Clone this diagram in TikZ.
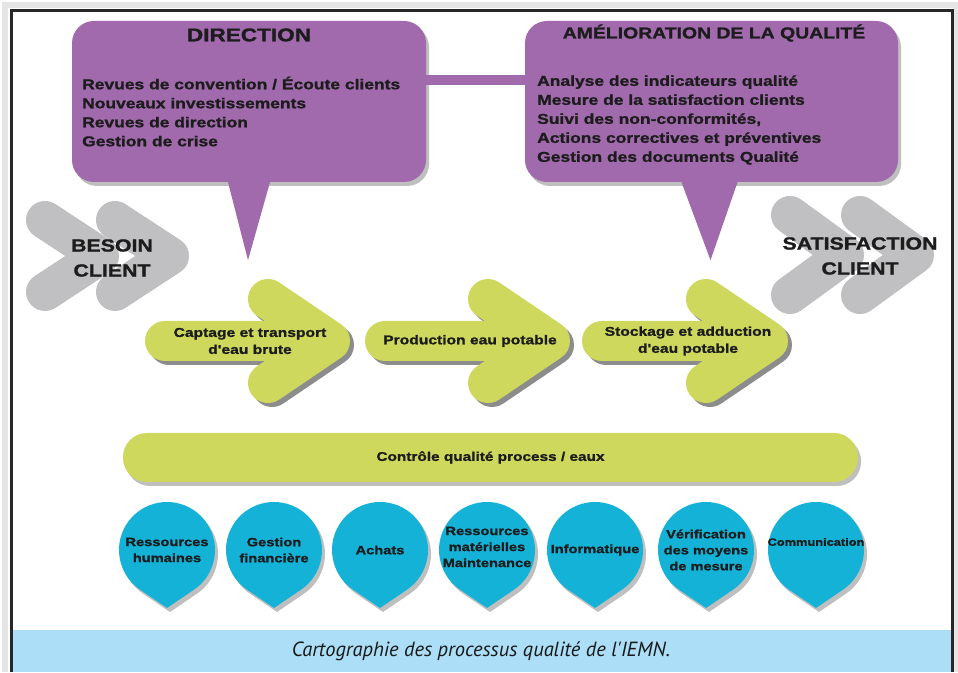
\documentclass[tikz,border=0pt]{standalone}
\usepackage{fontspec}
\setmainfont{Liberation Sans}
\newfontfamily\heavy[FakeStretch=1.22, FakeBold=1.2]{Liberation Sans Bold}
\newfontfamily\capfont{PT Sans}
\usetikzlibrary{shadows,calc}

\definecolor{procpurple}{RGB}{160,106,172}
\definecolor{procgreen}{RGB}{205,216,92}
\definecolor{chevgray}{RGB}{192,192,194}
\definecolor{dropblue}{RGB}{20,178,215}
\definecolor{capblue}{RGB}{172,223,247}
\definecolor{inkdark}{RGB}{28,28,28}

\tikzset{
  softshadow/.style={drop shadow={shadow xshift=3pt, shadow yshift=-4pt, opacity=.5}},
  pbox/.style={fill=procpurple, rounded corners=22pt, minimum height=161pt, softshadow},
  ptitle/.style={font=\heavy\fontsize{18.5}{20}\selectfont},
  plist/.style={font=\heavy\fontsize{14.3}{19}\selectfont, align=left, anchor=west, inner sep=0pt},
  chevron/.style={chevgray, line width=38pt, line cap=round, line join=round},
  chevlabel/.style={font=\heavy\fontsize{17.5}{25}\selectfont, align=center},
  arrowtext/.style={font=\heavy\fontsize{12.8}{17}\selectfont, align=center},
  ctrlbar/.style={fill=procgreen, rounded corners=24pt, minimum width=735pt, minimum height=49pt,
    softshadow, font=\heavy\fontsize{12.6}{15}\selectfont},
  dropfill/.style={fill=dropblue, softshadow},
  droptext/.style={font=\heavy\fontsize{12}{16}\selectfont, align=center, inner sep=0pt},
  captext/.style={font=\capfont\itshape\fontsize{20.5}{22}\selectfont, text=black!90}
}

\begin{document}
\begin{tikzpicture}[x=1pt, y=1pt, every node/.style={text=inkdark}]
  \useasboundingbox (0,0) rectangle (958,672);
  \fill[white] (0,0) rectangle (958,672);

  % frame and caption band
  \draw[black!10, line width=6pt] (5,0) -- (5,667) -- (956,667) -- (956,0);
  \fill[capblue] (12,0) rectangle (951,42);
  \draw[black!85, line width=3pt] (11,0) -- (11,661.5) -- (952.5,661.5) -- (952.5,0);
  \node[captext] (caption) at (481,21) {Cartographie des processus qualité de l'IEMN.};

  % customer chevrons
  \foreach \dx in {0,70} {
    \draw[chevron] (45+\dx,452) -- (100+\dx,416) -- (45+\dx,380);
    \draw[chevron] (790+\dx,457) -- (845+\dx,417) -- (790+\dx,377);
  }
  \node[chevlabel] (besoin) at (112,414) {BESOIN\\CLIENT};
  \node[chevlabel] (satisf) at (860,416) {SATISFACTION\\CLIENT};

  % management boxes
  \node[pbox, minimum width=354pt] (dir) at (249,570.5) {};
  \node[pbox, minimum width=373pt] (amel) at (711.5,570.5) {};
  \fill[procpurple] ([xshift=-21pt]dir.south) -- ([xshift=-1pt,yshift=-78pt]dir.south)
    -- ([xshift=21pt]dir.south) -- cycle;
  \fill[procpurple] ([xshift=-30pt]amel.south) -- ([xshift=-1pt,yshift=-78pt]amel.south)
    -- ([xshift=26pt]amel.south) -- cycle;
  \draw[procpurple, line width=10pt] ([yshift=21.5pt]dir.east) -- ([yshift=21.5pt]dir.east -| amel.west);
  \node[ptitle] (dirtitle) at (249,637) {DIRECTION};
  \node[ptitle, font=\heavy\fontsize{15.9}{18}\selectfont] (ameltitle) at (714,639)
    {AMÉLIORATION DE LA QUALITÉ};
  \node[plist] (dirlist) at (82,560.5) {Revues de convention / Écoute clients\\
    Nouveaux investissements\\Revues de direction\\Gestion de crise};
  \node[plist] (amellist) at (537,552) {Analyse des indicateurs qualité\\
    Mesure de la satisfaction clients\\Suivi des non-conformités,\\
    Actions correctives et préventives\\Gestion des documents Qualité};

  % process arrows
  \foreach \nm/\xl/\xv/\txt in {cap/145/330/{Captage et transport\\d'eau brute},
      prod/365/550/{Production eau potable},
      stock/582/768/{Stockage et adduction\\d'eau potable}} {
    \foreach \s/\col in {4/black!45, 0/procgreen} {
      \begin{scope}[shift={(\s,-\s)}]
        \fill[\col, rounded corners=20pt] (\xl,311) rectangle (\xv,351);
        \draw[\col, line width=40pt, line cap=round, line join=round]
          (\xv-62,373) -- (\xv,331) -- (\xv-62,289);
      \end{scope}
    }
    \node[arrowtext] (\nm) at (\xv-80,331) {\txt};
  }

  \node[ctrlbar] (ctrl) at (490.5,214.5) {Contrôle qualité process / eaux};

  % support processes
  \foreach \nm/\cx/\cy/\txt in {rh/167/122/{Ressources\\humaines}, gf/274/122/{Gestion\\financière},
      ach/380/122/Achats, rm/487/125/{Ressources\\matérielles\\Maintenance},
      info/595/122/Informatique, verif/706/122/{Vérification\\des moyens\\de mesure},
      comm/816/130/{\fontsize{10.5}{12}\selectfont Communication}} {
    \fill[dropfill] (\cx,64) -- ($(\cx,122)+(-56:48)$) arc[start angle=-56, end angle=236, radius=48] -- cycle;
    \node[droptext] (\nm) at (\cx,\cy) {\txt};
  }
\end{tikzpicture}
\end{document}
